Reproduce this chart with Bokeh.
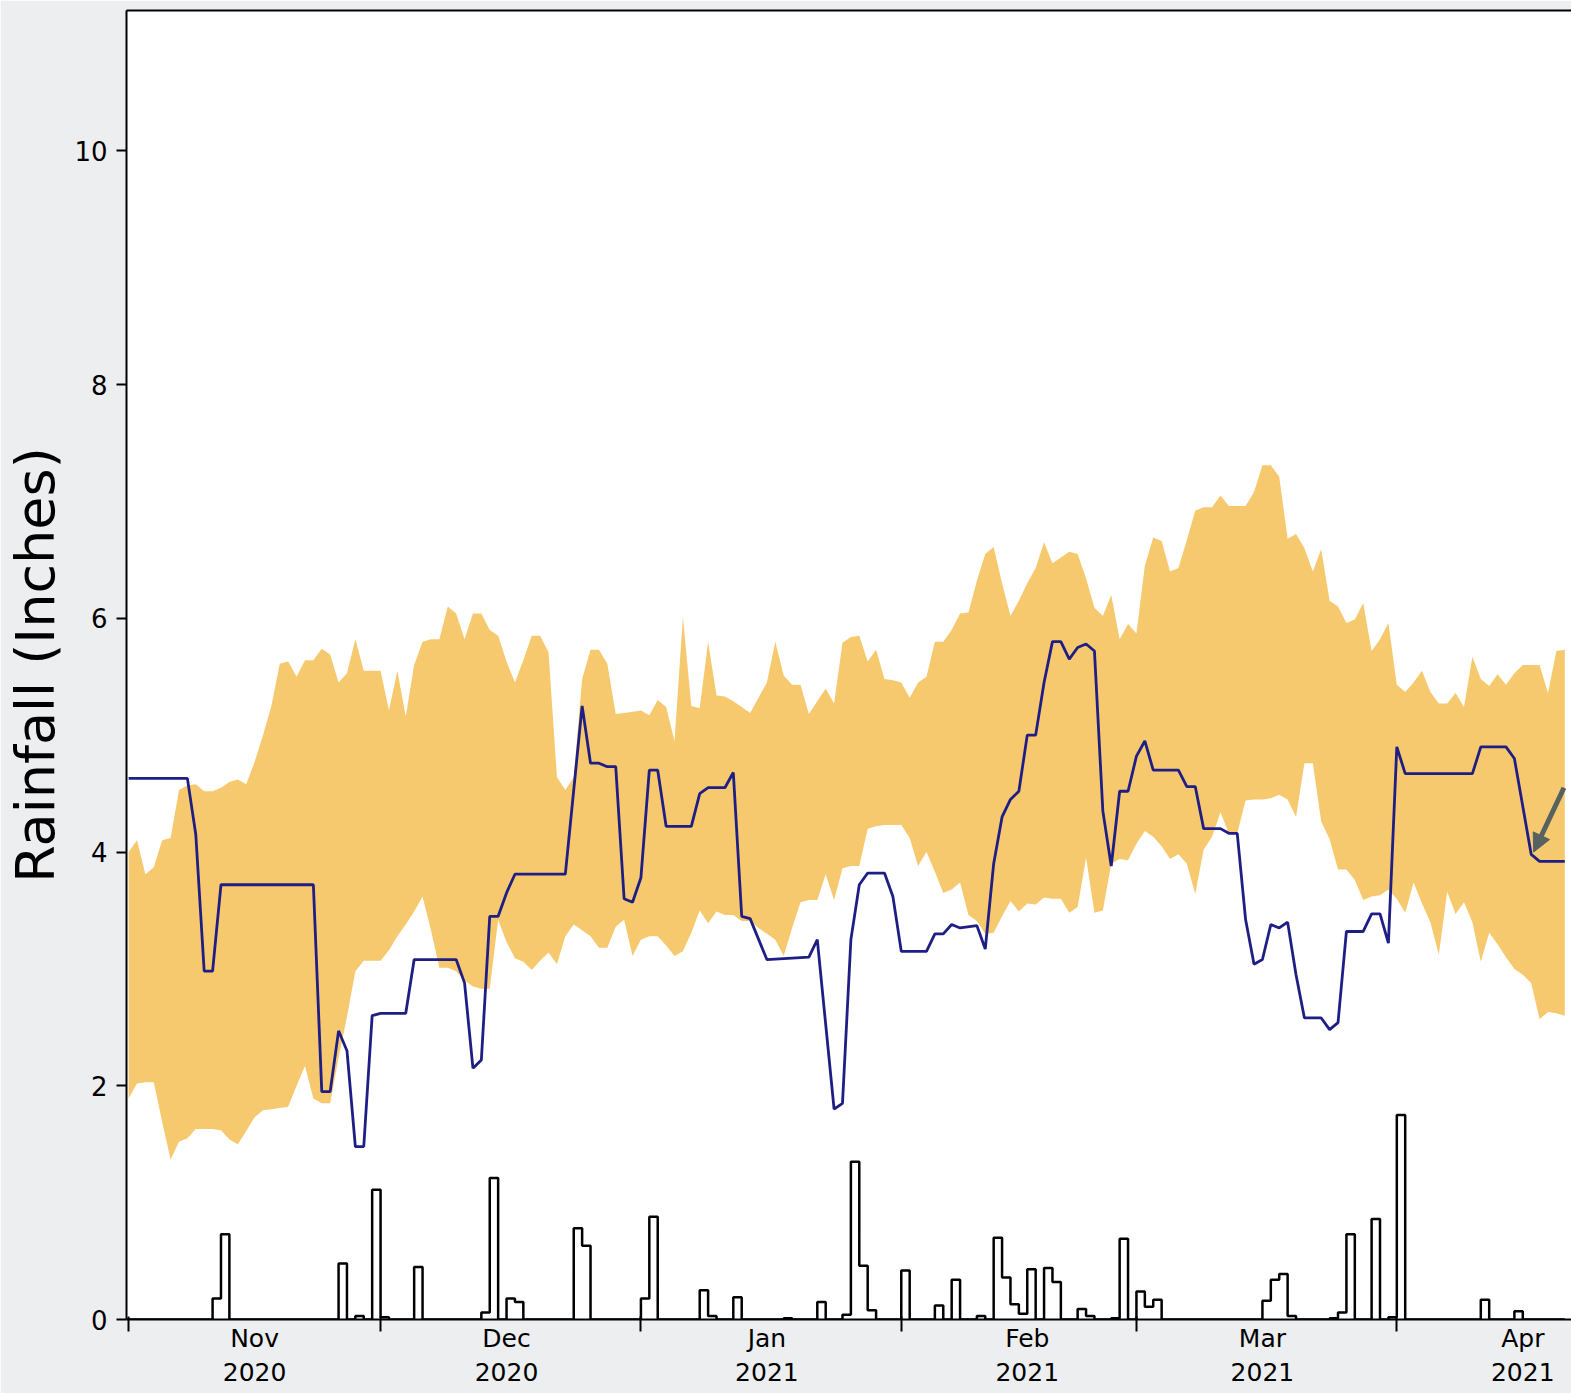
import pandas as pd
from bokeh.plotting import figure
from bokeh.models import Range1d, FixedTicker, LinearAxis, Arrow, NormalHead, ColumnDataSource
from bokeh.embed import file_html
from bokeh.resources import INLINE

# ---------------- data ----------------
START = pd.Timestamp("2020-11-01")          # day 0
N_DAYS = 172                                 # Nov 1 2020 .. Apr 20 2021

# Band (daily), upper and lower edge, inches
band_upper = [
    4.00, 4.10, 3.81, 3.87, 4.10, 4.12, 4.53, 4.57, 4.58, 4.52,
    4.52, 4.55, 4.60, 4.62, 4.58, 4.77, 5.00, 5.25, 5.61, 5.63,
    5.50, 5.64, 5.64, 5.74, 5.69, 5.45, 5.53, 5.82, 5.55, 5.55,
    5.55, 5.21, 5.55, 5.16, 5.60, 5.80, 5.82, 5.82, 6.10, 6.04,
    5.82, 6.04, 6.04, 5.90, 5.85, 5.63, 5.45, 5.64, 5.85, 5.85,
    5.71, 4.64, 4.53, 4.64, 5.48, 5.73, 5.73, 5.61, 5.18, 5.19,
    5.20, 5.21, 5.17, 5.30, 5.24, 4.95, 6.01, 5.25, 5.23, 5.80,
    5.34, 5.33, 5.29, 5.24, 5.19, 5.32, 5.45, 5.80, 5.51, 5.43,
    5.43, 5.18, 5.29, 5.40, 5.27, 5.79, 5.84, 5.85, 5.63, 5.73,
    5.48, 5.47, 5.45, 5.32, 5.45, 5.50, 5.80, 5.80, 5.90, 6.04,
    6.05, 6.32, 6.55, 6.61, 6.30, 6.02, 6.15, 6.30, 6.43, 6.65,
    6.47, 6.52, 6.57, 6.55, 6.34, 6.09, 6.02, 6.20, 5.82, 5.95,
    5.87, 6.45, 6.69, 6.66, 6.40, 6.43, 6.67, 6.92, 6.95, 6.95,
    7.05, 6.96, 6.96, 6.96, 7.08, 7.31, 7.31, 7.21, 6.68, 6.72,
    6.60, 6.40, 6.59, 6.15, 6.10, 5.96, 5.99, 6.13, 5.72, 5.82,
    5.96, 5.43, 5.37, 5.45, 5.55, 5.37, 5.27, 5.27, 5.36, 5.24,
    5.67, 5.48, 5.42, 5.52, 5.43, 5.53, 5.60, 5.60, 5.60, 5.36,
    5.72, 5.73,
]
band_lower = [
    1.89, 2.02, 2.03, 2.03, 1.69, 1.37, 1.52, 1.55, 1.63, 1.63,
    1.63, 1.62, 1.54, 1.50, 1.61, 1.73, 1.79, 1.80, 1.81, 1.82,
    2.00, 2.17, 1.89, 1.85, 1.85, 2.24, 2.59, 2.98, 3.07, 3.07,
    3.07, 3.16, 3.28, 3.38, 3.49, 3.62, 3.33, 3.01, 3.01, 2.98,
    2.90, 2.85, 2.83, 2.83, 3.42, 3.23, 3.09, 3.06, 2.99, 3.07,
    3.14, 3.04, 3.28, 3.38, 3.33, 3.28, 3.18, 3.18, 3.36, 3.42,
    3.11, 3.25, 3.28, 3.28, 3.20, 3.11, 3.15, 3.31, 3.50, 3.39,
    3.49, 3.46, 3.46, 3.41, 3.41, 3.35, 3.30, 3.25, 3.11, 3.35,
    3.57, 3.59, 3.59, 3.81, 3.59, 3.86, 3.88, 3.88, 4.20, 4.22,
    4.23, 4.23, 4.23, 4.12, 3.88, 4.00, 3.83, 3.65, 3.68, 3.74,
    3.46, 3.41, 3.30, 3.31, 3.45, 3.58, 3.49, 3.56, 3.55, 3.61,
    3.60, 3.60, 3.48, 3.53, 3.95, 3.48, 3.50, 3.90, 3.94, 3.93,
    4.07, 4.18, 4.13, 4.05, 3.94, 3.98, 3.90, 3.64, 4.02, 4.13,
    4.34, 4.16, 4.16, 4.44, 4.45, 4.45, 4.46, 4.49, 4.45, 4.30,
    4.76, 4.76, 4.26, 4.11, 3.85, 3.85, 3.76, 3.59, 3.62, 3.63,
    3.68, 3.60, 3.48, 3.74, 3.56, 3.40, 3.12, 3.66, 3.47, 3.57,
    3.40, 3.06, 3.31, 3.21, 3.10, 3.00, 2.95, 2.88, 2.57, 2.63,
    2.62, 2.60,
]

# Navy line: vertices (day, inches)
line_days = [0, 7, 8, 9, 10, 11, 22, 23, 24, 25, 26, 27, 28, 29, 30, 33, 34, 39, 40, 41,
             42, 43, 44, 45, 46, 52, 54, 55, 56, 57, 58, 59, 60, 61, 62, 63, 64, 67, 68, 69,
             71, 72, 73, 74, 76, 81, 82, 84, 85, 86, 87, 88, 90, 91, 92, 95, 96, 97, 98, 99,
             101, 102, 103, 104, 105, 106, 107, 108, 109, 110, 111, 112, 113, 114, 115, 116,
             117, 118, 119, 120, 121, 122, 125, 126, 127, 128, 130, 131, 132, 133, 134, 135,
             136, 137, 138, 139, 140, 142, 143, 144, 145, 147, 148, 149, 150, 151, 152, 160,
             161, 164, 165, 167, 168, 171]
line_vals = [4.63, 4.63, 4.15, 2.98, 2.98, 3.72, 3.72, 1.95, 1.95, 2.47, 2.30, 1.48, 1.48,
             2.60, 2.62, 2.62, 3.08, 3.08, 2.88, 2.15, 2.22, 3.45, 3.45, 3.65, 3.81, 3.81,
             5.25, 4.76, 4.76, 4.73, 4.73, 3.60, 3.57, 3.78, 4.70, 4.70, 4.22, 4.22, 4.50,
             4.55, 4.55, 4.68, 3.45, 3.43, 3.08, 3.10, 3.25, 1.80, 1.85, 3.25, 3.72, 3.82,
             3.82, 3.62, 3.15, 3.15, 3.30, 3.30, 3.38, 3.35, 3.37, 3.17, 3.90, 4.30, 4.45,
             4.52, 5.00, 5.00, 5.45, 5.80, 5.80, 5.65, 5.75, 5.78, 5.72, 4.35, 3.88, 4.52,
             4.52, 4.82, 4.95, 4.70, 4.70, 4.56, 4.56, 4.20, 4.20, 4.16, 4.16, 3.42, 3.04,
             3.08, 3.38, 3.35, 3.40, 2.95, 2.58, 2.58, 2.48, 2.54, 3.32, 3.32, 3.47, 3.47,
             3.22, 4.90, 4.67, 4.67, 4.90, 4.90, 4.80, 3.98, 3.92, 3.92]

# Daily rainfall (days with rain only; all other days 0)
rain_days = [10, 11, 25, 27, 29, 30, 34, 42, 43, 45, 46, 53, 54, 61, 62, 68, 69, 72, 78, 82,
             85, 86, 87, 88, 92, 96, 98, 101, 103, 104, 105, 106, 107, 109, 110, 113, 114,
             117, 118, 120, 121, 122, 135, 136, 137, 138, 143, 144, 145, 148, 150, 151, 161, 165]
rain_vals = [0.18, 0.73, 0.48, 0.03, 1.11, 0.02, 0.45, 0.06, 1.21, 0.18, 0.15, 0.78, 0.63,
             0.18, 0.88, 0.25, 0.03, 0.19, 0.01, 0.15, 0.04, 1.35, 0.46, 0.08, 0.42, 0.12,
             0.34, 0.03, 0.70, 0.36, 0.13, 0.05, 0.43, 0.44, 0.32, 0.09, 0.03, 0.01, 0.69,
             0.24, 0.11, 0.17, 0.16, 0.34, 0.39, 0.03, 0.01, 0.06, 0.73, 0.86, 0.02, 1.75,
             0.17, 0.07]

month_starts = ["2020-11-01", "2020-12-01", "2021-01-01", "2021-02-01", "2021-03-01", "2021-04-01"]
month_mids = ["2020-11-16", "2020-12-16", "2021-01-16", "2021-02-16", "2021-03-16", "2021-04-16"]
month_labels = ["Nov\n2020", "Dec\n2020", "Jan\n2021", "Feb\n2021", "Mar\n2021", "Apr\n2021"]
y_ticks = [0, 2, 4, 6, 8, 10]

# annotation arrow (day, inches)
arrow_from = (170.9, 4.55)
arrow_to = (167.3, 4.00)

# ---------------- build ----------------
def day_ts(d):
    return START + pd.Timedelta(days=d)

def ms(t):
    return pd.Timestamp(t).value / 1e6

daily = pd.date_range(START, periods=N_DAYS, freq="D")
band_src = ColumnDataSource(dict(x=daily, lo=band_lower, hi=band_upper))
line_src = ColumnDataSource(dict(x=[day_ts(d) for d in line_days], y=line_vals))
rain_full = [0.0] * N_DAYS
for d, v in zip(rain_days, rain_vals):
    rain_full[d] = v
rain_src = ColumnDataSource(dict(x=daily, y=rain_full))

FONT = "DejaVu Sans"

p = figure(width=1571, height=1393, x_axis_type="datetime",
           output_backend="svg", toolbar_location=None,
           x_range=Range1d(day_ts(-0.25), day_ts(171.8)),
           y_range=Range1d(0, 11.2),
           min_border_left=126, min_border_right=0, min_border_top=10, min_border_bottom=74)
p.outline_line_color = None
p.grid.grid_line_color = None
p.background_fill_color = "white"
p.border_fill_color = "#edeef0"

p.varea(x="x", y1="lo", y2="hi", source=band_src, fill_color="#F7C96F", fill_alpha=1.0)
p.line(x="x", y="y", source=line_src, line_color="#1e1e84", line_width=2.8)
p.step(x="x", y="y", source=rain_src, mode="after", line_color="black", line_width=2.5)

p.add_layout(Arrow(end=NormalHead(size=18, fill_color="#56625f", line_color="#56625f"),
                   x_start=ms(day_ts(arrow_from[0])), y_start=arrow_from[1],
                   x_end=ms(day_ts(arrow_to[0])), y_end=arrow_to[1],
                   line_color="#56625f", line_width=5))

# x axis
xa = p.xaxis[0]
xa.ticker = FixedTicker(ticks=[ms(t) for t in month_mids],
                        minor_ticks=[ms(t) for t in month_starts])
xa.major_label_overrides = {ms(t): lab for t, lab in zip(month_mids, month_labels)}
xa.major_tick_out = 0
xa.major_tick_in = 0
xa.minor_tick_out = 12
xa.minor_tick_in = 3
xa.minor_tick_line_width = 2
xa.minor_tick_line_color = "black"
xa.axis_line_width = 2
xa.axis_line_color = "black"
xa.major_label_standoff = -8
xa.major_label_text_font = FONT
xa.major_label_text_font_size = "25px"
xa.major_label_text_color = "black"

# y axis
ya = p.yaxis[0]
ya.ticker = FixedTicker(ticks=y_ticks)
ya.major_tick_out = 10
ya.major_tick_in = 0
ya.minor_tick_out = 0
ya.minor_tick_in = 0
ya.major_tick_line_width = 2
ya.axis_line_width = 2
ya.axis_line_color = "black"
ya.major_label_standoff = 9
ya.major_label_text_font = FONT
ya.major_label_text_font_size = "26px"
ya.major_label_text_color = "black"
ya.axis_label = "Rainfall (Inches)"
ya.axis_label_text_font = FONT
ya.axis_label_text_font_size = "54px"
ya.axis_label_text_font_style = "normal"
ya.axis_label_text_color = "black"
ya.axis_label_standoff = 4

# top spine
top = LinearAxis(ticker=FixedTicker(ticks=[]), major_label_text_font_size="0px",
                 major_tick_out=0, major_tick_in=0, minor_tick_out=0, minor_tick_in=0,
                 major_label_standoff=0, axis_line_width=2, axis_line_color="black")
p.add_layout(top, "above")

open("out.html", "w").write(file_html(p, INLINE))
